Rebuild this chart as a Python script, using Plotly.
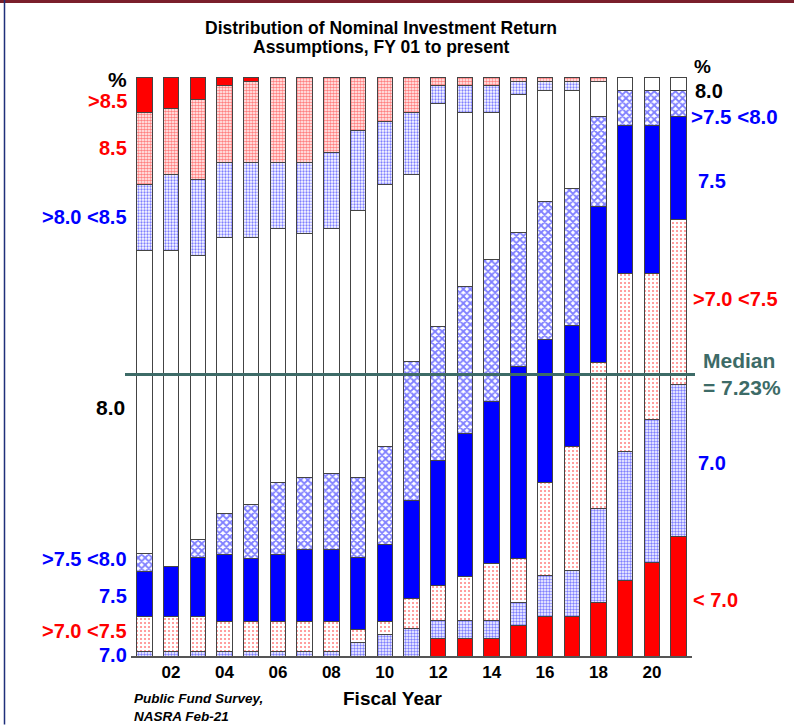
"""
Distribution of nominal investment return assumptions, FY01-FY21 (NASRA)
"""
import plotly.graph_objects as go

# fiscal years on the x axis
years = list(range(1, 22))
tick_years = [2, 4, 6, 8, 10, 12, 14, 16, 18, 20]
tick_labels = ["02", "04", "06", "08", "10", "12", "14", "16", "18", "20"]

# share of plans (%) in each assumption band, FY01..FY21
lt_70 = [0, 0, 0, 0, 0, 0, 0, 0, 0, 0, 0, 3.0, 3.0, 3.0, 5.3, 6.9, 6.9, 9.2, 13.0, 16.1, 20.7]
eq_70 = [0.8, 0.8, 0.8, 0.8, 0.8, 0.8, 0.8, 0.8, 2.3, 3.8, 4.7, 3.1, 3.1, 3.1, 3.9, 7.0, 7.8, 16.2, 22.3, 24.7, 26.2]
gt_70_lt_75 = [6.1, 6.1, 6.1, 5.2, 5.2, 5.2, 5.2, 5.2, 2.3, 2.2, 5.2, 6.1, 7.7, 9.9, 7.7, 16.1, 21.5, 25.3, 30.7, 25.2, 28.4]
eq_75 = [7.7, 8.5, 10.1, 11.6, 10.9, 11.6, 12.4, 12.4, 12.4, 13.2, 17.0, 21.6, 24.6, 27.9, 33.1, 24.7, 20.8, 26.9, 25.6, 25.6, 17.7]
gt_75_lt_80 = [3.1, 0, 3.2, 7.0, 9.2, 12.4, 12.4, 13.2, 13.8, 17.0, 23.9, 23.1, 25.4, 24.6, 23.1, 23.8, 23.8, 15.4, 6.1, 6.1, 4.6]
eq_80 = [52.3, 54.6, 49.1, 47.7, 46.1, 43.8, 42.3, 42.2, 46.1, 45.3, 32.3, 38.4, 29.9, 25.3, 23.9, 19.3, 16.9, 6.1, 2.3, 2.3, 2.3]
gt_80_lt_85 = [11.5, 13.1, 13.1, 13.0, 13.0, 11.5, 12.3, 13.1, 13.8, 10.8, 10.7, 3.1, 4.7, 4.7, 2.2, 1.5, 1.5, 0, 0, 0, 0]
eq_85 = [12.4, 11.5, 13.8, 13.2, 13.9, 14.7, 14.7, 13.1, 9.3, 7.7, 6.2, 1.5, 1.5, 1.5, 0.8, 0.8, 0.8, 0.8, 0, 0, 0]
gt_85 = [6.1, 5.4, 3.9, 1.5, 0.8, 0, 0, 0, 0, 0, 0, 0, 0, 0, 0, 0, 0, 0, 0, 0, 0]

median_label = "Median<br>= 7.23%"
median_line_level = 48.6  # where the median line crosses the 100% stack

RED = "#FF0000"
BLUE = "#0000FF"
TEAL = "#3D6B67"
FONT = "Liberation Sans, Arial, sans-serif"

# plot area in pixels (794 x 725 page)
L, R, T, B = 131, 692, 77, 656.5


def px(x):
    return (x - L) / (R - L)


def py(y):
    return (B - y) / (B - T)


bands = [
    ("< 7.0", lt_70, dict(color=RED)),
    ("7.0", eq_70, dict(color="white", pattern=dict(shape=".", fgcolor=BLUE, bgcolor="white", size=3, solidity=0.5))),
    (">7.0 <7.5", gt_70_lt_75, dict(color="white", pattern=dict(shape=".", fgcolor=RED, bgcolor="white", size=4, solidity=0.2))),
    ("7.5", eq_75, dict(color=BLUE)),
    (">7.5 <8.0", gt_75_lt_80, dict(color="white", pattern=dict(shape="x", fgcolor=BLUE, bgcolor="white", size=5, solidity=0.6))),
    ("8.0", eq_80, dict(color="white")),
    (">8.0 <8.5", gt_80_lt_85, dict(color="white", pattern=dict(shape=".", fgcolor=BLUE, bgcolor="white", size=3, solidity=0.45))),
    ("8.5", eq_85, dict(color="white", pattern=dict(shape=".", fgcolor=RED, bgcolor="white", size=3, solidity=0.6))),
    (">8.5", gt_85, dict(color=RED)),
]

fig = go.Figure()
for name, vals, marker in bands:
    marker["line"] = dict(color="#444", width=1)
    fig.add_trace(go.Bar(x=years, y=vals, name=name, marker=marker, width=0.58))

fig.update_layout(
    barmode="stack",
    barnorm="percent",
    width=794,
    height=725,
    margin=dict(l=L, r=794 - R, t=T, b=725 - B),
    paper_bgcolor="white",
    plot_bgcolor="white",
    showlegend=False,
    font=dict(family=FONT, color="black"),
)
fig.update_xaxes(
    range=[0.5, 21.5], tickvals=tick_years, ticktext=tick_labels,
    tickfont=dict(size=17, family=FONT, weight="bold"), showgrid=False, zeroline=False,
    showline=True, linecolor="#555", linewidth=1.5, ticks="",
)
fig.update_yaxes(range=[0, 100], visible=False)

# median line
fig.add_shape(type="line", xref="paper", yref="y", x0=px(125), x1=px(695),
              y0=median_line_level, y1=median_line_level, line=dict(color=TEAL, width=3))


def label(text, x, y, color, anchor="right", size=20, italic=False, family=FONT):
    if italic:
        text = "<i>" + text + "</i>"
    fig.add_annotation(text="<b>" + text + "</b>", xref="paper", yref="paper",
                       x=px(x), y=py(y), xanchor=anchor, yanchor="middle",
                       showarrow=False, align="left" if anchor == "left" else "right",
                       font=dict(color=color, size=size, family=family))


# title
narrow = "Liberation Sans Narrow, Arial Narrow, " + FONT
label("Distribution of Nominal Investment Return", 381, 28, "black", anchor="center", size=17.5, family=narrow)
label("Assumptions, FY 01 to present", 381, 47, "black", anchor="center", size=17.5, family=narrow)

# left-hand band labels
label("%", 129, 80, "black", size=21)
label(">8.5", 129, 101, RED)
label("8.5", 129, 148, RED)
label(">8.0 <8.5", 129, 217, BLUE)
label("8.0", 127, 408, "black", size=21)
label(">7.5 <8.0", 129, 559, BLUE)
label("7.5", 129, 596, BLUE)
label(">7.0 <7.5", 129, 631, RED)
label("7.0", 129, 655, BLUE)

# right-hand band labels
label("%", 692, 66, "black", anchor="left", size=19)
label("8.0", 693, 91, "black", anchor="left", size=20)
label(">7.5 <8.0", 689, 117, BLUE, anchor="left", size=20.5)
label("7.5", 696, 181, BLUE, anchor="left")
label(">7.0 <7.5", 691, 299, RED, anchor="left")
label(median_label, 701, 374, TEAL, anchor="left", size=21)
label("7.0", 696, 463, BLUE, anchor="left")
label("< 7.0", 691, 600, RED, anchor="left")

# axis title and source
label("Fiscal Year", 393, 699, "black", anchor="center", size=19)
label("Public Fund Survey,<br>NASRA Feb-21", 132, 708, "black", anchor="left", size=13.5, italic=True)

# slide frame
fig.add_shape(type="line", xref="paper", yref="paper", x0=px(0), x1=px(794),
              y0=py(1.5), y1=py(1.5), line=dict(color="#7A1F2B", width=3))
fig.add_shape(type="line", xref="paper", yref="paper", x0=px(4.5), x1=px(4.5),
              y0=py(0), y1=py(725), line=dict(color="#1F2F7A", width=1.5))

# the page's default 8px body margin would shift the fixed-size figure
fig.write_html("out.html", config={"displayModeBar": False},
               post_script="document.body.style.margin='0px';")
